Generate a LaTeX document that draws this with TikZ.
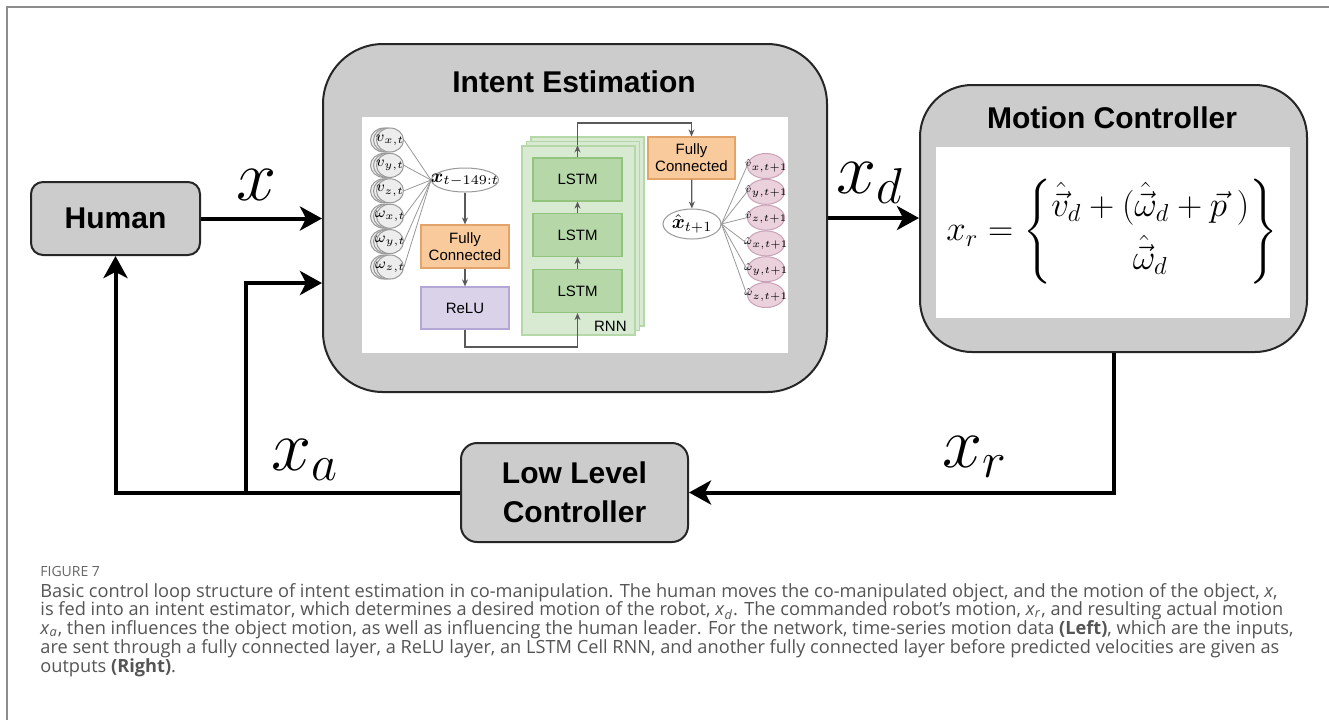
\documentclass[tikz,border=0pt]{standalone}
\usepackage{fix-cm}
\usepackage{amsmath,amssymb}
\usepackage{fontspec}
\newfontfamily\labfont{Liberation Sans}
\newfontfamily\capfont{Open Sans}
\usetikzlibrary{arrows.meta, positioning, shapes.geometric}

\definecolor{boxgray}{HTML}{CCCCCC}
\definecolor{fcorange}{HTML}{F9CB9C}
\definecolor{fcedge}{HTML}{E3A46B}
\definecolor{relufill}{HTML}{D9D2E9}
\definecolor{reluedge}{HTML}{B4A7D6}
\definecolor{rnnfill}{HTML}{D9EAD3}
\definecolor{rnnedge}{HTML}{B6D7A8}
\definecolor{lstmfill}{HTML}{B6D7A8}
\definecolor{lstmedge}{HTML}{93C47D}
\definecolor{outfill}{HTML}{EAD1DC}
\definecolor{outedge}{HTML}{C9A2B6}
\definecolor{capgray}{HTML}{555555}

\newcommand{\zw}[1]{\makebox[0pt]{#1}}

\begin{document}
\begin{tikzpicture}[x=0.5pt, y=-0.5pt,
  block/.style={draw=black!85, line width=1pt, fill=boxgray, align=center, inner sep=0pt,
    font=\labfont\bfseries\fontsize{15}{19.5}\selectfont},
  title/.style={anchor=base, inner sep=0pt, font=\labfont\bfseries\fontsize{15}{18}\selectfont},
  flow/.style={line width=2pt, -{Stealth[length=11pt, width=12pt, inset=3pt]}},
  lbl/.style={anchor=base west, inner sep=0pt, font=\fontsize{36}{36}\selectfont},
  nnbox/.style={draw=#1, line width=0.6pt, align=center, inner sep=0pt,
    minimum width=44pt, minimum height=21.5pt, font=\labfont\fontsize{7.5}{8.5}\selectfont},
  ell/.style={ellipse, line width=0.5pt, inner sep=0pt},
  inell/.style={ell, draw=black!40, fill=black!7, minimum width=13.5pt, minimum height=12pt},
  outell/.style={ell, draw=outedge, fill=outfill, minimum width=18.5pt, minimum height=12.5pt},
  fanline/.style={draw=black!40, line width=0.4pt},
  nnarrow/.style={draw=black!65, line width=0.6pt, -{Stealth[length=3.5pt, width=3pt]}},
  captext/.style={anchor=base west, inner sep=0pt, text=capgray,
    font=\capfont\fontsize{9.1}{9.4}\selectfont}]

  \useasboundingbox (0,0) rectangle (1329,720);
  \fill [white] (0,0) rectangle (1329,720);
  \draw [black!45, line width=1pt] (7,720) -- (7,7) -- (1329,7);

  % main loop
  \node (human) [block, minimum width=84.5pt, minimum height=36.5pt, rounded corners=6pt] at (115.5,218.5) {Human};
  \node (intent) [block, minimum width=252pt, minimum height=174pt, rounded corners=30pt] at (575,218) {};
  \node (motion) [block, minimum width=193.5pt, minimum height=133.5pt, rounded corners=26pt] at (1113.5,218.5) {};
  \node (low) [block, minimum width=113.5pt, minimum height=49.5pt, rounded corners=8pt] at (574.5,492.5) {Low Level\\Controller};

  \node (intenttitle) [title] at (574,92) {Intent Estimation};
  \node (motiontitle) [title] at (1112,128) {Motion Controller};

  \node (netpanel) [fill=white, minimum width=213pt, minimum height=118pt, inner sep=0pt] at (575,235) {};
  \node (ctrlpanel) [fill=white, minimum width=177pt, minimum height=85.5pt, inner sep=0pt] at (1113,232.5) {};

  \node (law) [font=\fontsize{17.5}{21}\selectfont] at (1112,232)
    {$x_r = \left\{\begin{matrix}\hat{\vec{v}}_d + (\hat{\vec{\omega}}_d + \vec{p}\;)\\[3pt] \hat{\vec{\omega}}_d\end{matrix}\right\}$};

  \draw [flow] (human.east) -- (human.east -| intent.west);
  \draw [flow] (intent.east) -- (intent.east -| motion.west);
  \draw [flow] (motion.south) |- (low.east);
  \draw [flow] (low.west) -| (human.south);
  \coordinate (ja) at (246,492.5);
  \coordinate (jb) at (246,283);
  \draw [flow] (ja) -- (jb) -- (jb -| intent.west);

  \node (xlab) [lbl] at (236,200) {$x$};
  \node (xdlab) [lbl] at (836,193) {$x_d$};
  \node (xalab) [lbl] at (271,470) {$x_a$};
  \node (xrlab) [lbl] at (942,467) {$x_r$};

  % network inside intent estimation
  \node (xin) [ell, draw=black!40, fill=white, minimum width=33.5pt, minimum height=12pt] at (465,180)
    {\zw{\fontsize{9.5}{11}\selectfont$\boldsymbol{x}_{t-149:t}$}};
  \foreach \lab [count=\i] in {{v_{x,t}}, {v_{y,t}}, {v_{z,t}}, {\omega_{x,t}}, {\omega_{y,t}}, {\omega_{z,t}}} {
    \node (in\i c) [inell] at (384,{114.6+25.4*\i}) {};
    \node (in\i b) [inell] at (387,{114.6+25.4*\i}) {};
    \node (in\i) [inell] at (390,{114.6+25.4*\i}) {\zw{\fontsize{7.5}{9}\selectfont$\lab$}};
    \draw [fanline] (in\i.east) -- (xin.west);
  }

  \node (fc1) [nnbox=fcedge, fill=fcorange] at (465,246.5) {Fully\\Connected};
  \node (relu) [nnbox=reluedge, fill=relufill, minimum height=21pt] at (465,308) {ReLU};

  \foreach \k in {2,1,0}
    \node (rnn\k) [draw=rnnedge, fill=rnnfill, line width=0.6pt, minimum width=56.5pt, minimum height=94.5pt, inner sep=0pt]
      at ({578.5+4.5*\k},{240.5-4.5*\k}) {};
  \node (rnnlab) [anchor=base east, inner sep=0pt, font=\labfont\fontsize{7.5}{8.5}\selectfont] at (627,331) {RNN};
  \foreach \j/\yy in {1/179.5, 2/235, 3/291}
    \node (lstm\j) [nnbox=lstmedge, fill=lstmfill, minimum width=44.5pt] at (577.5,\yy) {LSTM};

  \node (fc2) [nnbox=fcedge, fill=fcorange, minimum width=43.5pt, minimum height=21pt] at (691.5,158) {Fully\\Connected};
  \node (xhat) [ell, draw=black!40, fill=white, minimum width=29pt, minimum height=15pt] at (692,224)
    {\zw{\fontsize{10}{11}\selectfont$\hat{\boldsymbol{x}}_{t+1}$}};

  \draw [nnarrow] (xin) -- (fc1);
  \draw [nnarrow] (fc1) -- (relu);
  \coordinate (rb) at (577.5,347);
  \draw [nnarrow] (relu.south) |- (rb) -- (lstm3.south);
  \draw [nnarrow] (lstm3) -- (lstm2);
  \draw [nnarrow] (lstm2) -- (lstm1);
  \draw [nnarrow] (lstm1) -- (lstm1 |- rnn0.north);
  \coordinate (rt) at (577.5,123);
  \draw [nnarrow] (lstm1 |- rnn0.north) -- (rt) -| (fc2);
  \draw [nnarrow] (fc2) -- (xhat);

  \foreach \lab [count=\i] in {{\hat{v}_{x,t+1}}, {\hat{v}_{y,t+1}}, {\hat{v}_{z,t+1}}, {\hat{\omega}_{x,t+1}}, {\hat{\omega}_{y,t+1}}, {\hat{\omega}_{z,t+1}}} {
    \node (out\i) [outell] at (766,{140.2+25.8*\i}) {\zw{\fontsize{5}{6}\selectfont$\lab$}};
    \draw [fanline] (xhat.east) -- (out\i.west);
  }

  % caption
  \node (fignum) [captext, font=\capfont\fontsize{7}{8}\selectfont, text=black!60] at (40,576) {FIGURE 7};
  \foreach \capline [count=\i] in {
    {Basic control loop structure of intent estimation in co-manipulation. The human moves the co-manipulated object, and the motion of the object, \textit{x},},
    {is fed into an intent estimator, which determines a desired motion of the robot, \textit{x}\textsubscript{\textit{d}}. The commanded robot’s motion, \textit{x}\textsubscript{\textit{r}}, and resulting actual motion},
    {\textit{x}\textsubscript{\textit{a}}, then influences the object motion, as well as influencing the human leader. For the network, time-series motion data \textbf{(Left)}, which are the inputs,},
    {are sent through a fully connected layer, a ReLU layer, an LSTM Cell RNN, and another fully connected layer before predicted velocities are given as},
    {outputs \textbf{(Right)}.}}
    \node (cap\i) [captext] at (40,{597+18.8*(\i-1)}) {\capline};
\end{tikzpicture}
\end{document}
